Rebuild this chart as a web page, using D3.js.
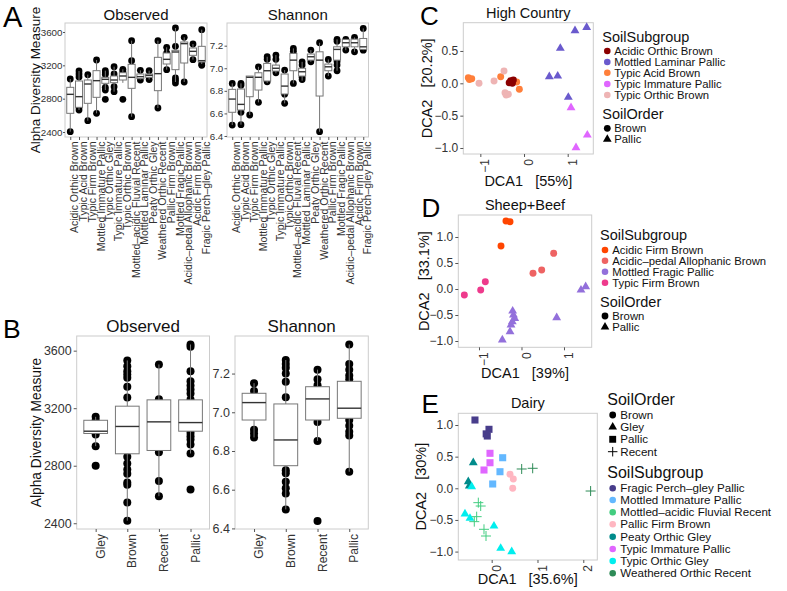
<!DOCTYPE html>
<html><head><meta charset="utf-8">
<script src="https://cdn.jsdelivr.net/npm/d3@7"></script>
<style>
body{margin:0;background:#fff}
text{font-family:"Liberation Sans",Arial,Helvetica,sans-serif}
</style>
</head><body>
<svg id="fig" width="787" height="591"></svg>
<script>
// ---------------- DATA ----------------
const aCats = ["Acidic Orthic Brown","Typic Acid Brown","Typic Firm Brown","Mottled Immature Pallic","Typic Orthic Gley","Typic Immature Pallic","Typic Orthic Brown","Mottled–acidic Fluvial Recent","Mottled Laminar Pallic","Peaty Orthic Gley","Weathered Orthic Recent","Pallic Firm Brown","Mottled Fragic Pallic","Acidic–pedal Allophanic Brown","Acidic Firm Brown","Fragic Perch–gley Pallic"];
// [whiskerLow, q1, median, q3, whiskerHigh]
const aObsStats = [[2404,2624,2852,2936,3036],[2664,2696,2824,3012,3132],[2536,2744,2976,3024,3088],[2624,2816,3016,3136,3264],[2904,2984,3032,3056,3136],[2884,2992,3024,3072,3184],[2990,3024,3072,3112,3152],[2584,2924,3056,3212,3496],[3030,3040,3064,3096,3140],[3030,3056,3080,3096,3136],[2688,2896,3100,3296,3496],[3148,3216,3272,3348,3416],[3000,3148,3360,3380,3648],[3000,3228,3460,3480,3536],[3268,3320,3368,3408,3456],[3216,3240,3256,3428,3628]];
const aObsPoints = [[3036,2404],[3132,3096,3060,2696,2664],[3088,2536],[3264,2624],[3136,3110,3090,2936,2904,2792],[3184,3096,2944,2884],[3152,3130,2792],[3496,3256,3152,2584],[3140,3024],[3136,3030],[3496,2688],[3416,3348,3148],[3648,3428,3048,3020,2988],[3536,3000],[3456,3268],[3628,3216,3200]];
const aShanStats = [[6.497,6.61,6.727,6.813,6.866],[6.5,6.63,6.68,6.816,6.866],[6.586,6.748,6.92,6.931,6.931],[6.698,6.807,6.92,6.96,7.013],[6.87,6.887,6.978,7.043,7.102],[6.955,6.975,7.0,7.028,7.117],[6.689,6.772,6.842,6.949,6.984],[6.866,6.978,7.072,7.132,7.176],[6.89,6.931,6.969,7.0,7.057],[7.057,7.072,7.102,7.126,7.161],[6.438,6.754,7.072,7.146,7.226],[6.931,6.978,7.013,7.037,7.078],[6.978,7.072,7.167,7.19,7.256],[7.16,7.19,7.226,7.256,7.256],[7.146,7.19,7.226,7.258,7.273],[7.16,7.167,7.19,7.264,7.353]];
const aShanPoints = [[6.866,6.497],[6.866,6.85,6.61,6.5],[6.586],[7.013,6.698],[7.102,7.08,6.97,6.88],[7.117,7.08,6.96],[6.984,6.77,6.689],[7.176,7.15,6.866],[7.057,7.03,6.92,6.9],[7.161,7.057],[7.226,6.438],[7.078,6.931],[7.256,7.24,7.06,7.03,6.978],[7.256,7.161],[7.273,7.146],[7.353,7.16]];
const aObsTicks = [2400,2800,3200,3600];
const aShanTicks = [6.4,6.6,6.8,7.0,7.2];

const bCats = ["Gley","Brown","Recent","Pallic"];
const bObsStats = [[2936,3024,3040,3116,3140],[2418,2883,3073,3214,3532],[2588,2906,3105,3258,3504],[2885,3040,3100,3258,3643]];
const bObsPoints = [[3140,3117,3017,2936,2800],[3532,3492,3457,3434,3411,3349,3274,2862,2815,2773,2745,2684,2668,2545,2418],[3504,3263,2893,2693,2588],[3643,3627,3457,3388,3358,3330,3302,3260,3029,3005,2982,2947,2885,2634]];
const bShanStats = [[6.87,6.96,7.05,7.098,7.15],[6.498,6.724,6.857,7.043,7.27],[6.852,6.96,7.069,7.132,7.22],[6.693,6.969,7.021,7.16,7.35]];
const bShanPoints = [[7.15,7.11,6.91,6.89,6.87],[7.27,7.25,7.23,7.2,7.158,7.077,6.7,6.685,6.641,6.607,6.581,6.498],[7.22,7.17,7.14,6.95,6.852,6.438],[7.35,7.25,7.22,7.19,7.17,6.96,6.93,6.9,6.88,6.693]];
const bObsTicks = [2400,2800,3200,3600];
const bShanTicks = [6.4,6.6,6.8,7.0,7.2];

// Panel C: High Country
const cSubgroups = ["Acidic Orthic Brown","Mottled Laminar Pallic","Typic Acid Brown","Typic Immature Pallic","Typic Orthic Brown"];
const cColors = ["#8B0000","#6A5ACD","#FF7F3A","#E066FF","#EEB4B4"];
const cSubOrder = ["Brown","Pallic","Brown","Pallic","Brown"];
const cOrders = ["Brown","Pallic"];
// [DCA1, DCA2, subgroup index]
const cPoints = [[-1.275,0.087,2],[-1.197,0.071,2],[-1.25,0.06,2],[-0.534,0.102,2],[-0.168,0.02,2],[-0.107,-0.093,2],
[-1.03,0.0,4],[-0.686,0.036,4],[-0.458,0.19,4],[-0.435,-0.145,4],[-0.359,-0.17,4],[-0.41,-0.18,4],
[-0.305,0.04,0],[-0.244,0.051,0],[-0.267,0.0,0],[-0.34,0.01,0],
[1.167,0.813,1],[1.434,0.865,1],[0.831,0.541,1],[0.579,0.102,1],[0.771,0.113,1],[1.014,-0.216,1],
[1.076,-0.377,3],[1.449,-0.8,3],[1.19,-0.995,3]];
const cXTicks = [-1,0,1], cYTicks = [-1.0,-0.5,0.0,0.5];

// Panel D: Sheep+Beef
const dSubgroups = ["Acidic Firm Brown","Acidic–pedal Allophanic Brown","Mottled Fragic Pallic","Typic Firm Brown"];
const dColors = ["#FF4500","#EE6363","#9370DB","#EE3A8C"];
const dSubOrder = ["Brown","Brown","Pallic","Brown"];
const dOrders = ["Brown","Pallic"];
const dPoints = [[-0.365,1.308,0],[-0.27,1.295,0],[-0.482,0.827,0],
[0.757,0.686,1],[0.475,0.365,1],[0.271,0.301,1],
[-1.345,-0.115,3],[-0.96,-0.02,3],[-0.851,0.141,3],
[-0.208,-0.423,2],[-0.19,-0.5,2],[-0.16,-0.564,2],[-0.216,-0.628,2],[-0.247,-0.692,2],[-0.27,-0.821,2],[-0.451,-0.98,2],[0.828,-0.552,2],[1.4,-0.02,2],[1.51,0.045,2]];
const dXTicks = [-1,0,1], dYTicks = [-1.0,-0.5,0.0,0.5,1.0];

// Panel E: Dairy
const eSubgroups = ["Fragic Perch–gley Pallic","Mottled Immature Pallic","Mottled–acidic Fluvial Recent","Pallic Firm Brown","Peaty Orthic Gley","Typic Immature Pallic","Typic Orthic Gley","Weathered Orthic Recent"];
const eColors = ["#483D8B","#63B8FF","#43CD80","#FFB6C1","#008B8B","#E066FF","#00EEEE","#2E8B57"];
const eSubOrder = ["Pallic","Pallic","Recent","Brown","Gley","Pallic","Gley","Recent"];
const eOrders = ["Brown","Gley","Pallic","Recent"];
const ePoints = [[-0.365,1.079,0],[-0.059,0.932,0],[-0.096,0.826,0],[-0.12,0.86,0],
[0.24,0.483,1],[0.181,0.262,1],[0.022,0.068,1],
[-0.037,0.553,5],[-0.037,0.404,5],[-0.168,0.289,5],
[0.4,0.221,3],[0.472,0.147,3],[0.459,0.0,3],
[-0.402,0.404,4],[-0.511,0.104,4],[-0.489,0.036,4],
[-0.437,0.025,6],[-0.583,-0.406,6],[-0.474,-0.474,6],[0.05,-0.596,6],[0.196,-0.948,6],[0.437,-1.0,6],
[-0.292,-0.227,2],[-0.24,-0.28,2],[-0.328,-0.448,2],[-0.38,-0.527,2],[-0.168,-0.648,2],[-0.124,-0.754,2],
[0.655,0.305,7],[0.895,0.316,7],[2.16,-0.043,7]];
const eXTicks = [0,1,2], eYTicks = [-1.0,-0.5,0.0,0.5,1.0];

// ---------------- DRAWING ----------------
const svg = d3.select("#fig");
const BORDER = "#cccccc", TICK = "#555", TXT = "#333";

function styleAxis(g){
  g.select(".domain").remove();
  g.selectAll(".tick line").attr("stroke", TICK);
  g.selectAll(".tick text").attr("fill", TXT);
}

function boxPanel(o){
  const x = d3.scalePoint().domain(o.cats).range([o.x0,o.x1]).padding(0.6);
  const y = d3.scaleLinear().domain(o.domain).range([o.y1,o.y0]);
  const g = svg.append("g");
  g.append("rect").attr("x",o.x0).attr("y",o.y0).attr("width",o.x1-o.x0).attr("height",o.y1-o.y0)
    .attr("fill","#fff").attr("stroke",BORDER).attr("stroke-width",1);
  const bw = x.step()*o.boxFrac;
  o.cats.forEach((c,i)=>{
    g.selectAll(null).data(o.pts[i]).join("circle")
      .attr("cx",x(c)).attr("cy",d=>y(d)).attr("r",o.r).attr("fill","#000");
  });
  o.cats.forEach((c,i)=>{
    const s = o.stats[i], cx = x(c);
    g.append("line").attr("x1",cx).attr("x2",cx).attr("y1",y(s[0])).attr("y2",y(s[1])).attr("stroke","#777").attr("stroke-width",1);
    g.append("line").attr("x1",cx).attr("x2",cx).attr("y1",y(s[3])).attr("y2",y(s[4])).attr("stroke","#777").attr("stroke-width",1);
    g.append("rect").attr("x",cx-bw/2).attr("width",bw).attr("y",y(s[3])).attr("height",Math.max(0.5,y(s[1])-y(s[3])))
      .attr("fill","#fff").attr("stroke","#777").attr("stroke-width",1);
    g.append("line").attr("x1",cx-bw/2).attr("x2",cx+bw/2).attr("y1",y(s[2])).attr("y2",y(s[2])).attr("stroke","#333").attr("stroke-width",1.4);
  });
  const ya = g.append("g").attr("transform",`translate(${o.x0},0)`)
    .call(d3.axisLeft(y).tickValues(o.ticks).tickSize(o.tickLen).tickPadding(o.tickPad).tickFormat(o.fmt));
  styleAxis(ya); ya.selectAll("text").style("font-size",o.tickSize+"px");
  const xa = g.append("g").attr("transform",`translate(0,${o.y1})`)
    .call(d3.axisBottom(x).tickSize(3));
  styleAxis(xa);
  xa.selectAll(".tick text").attr("transform","rotate(-90)").attr("text-anchor","end")
    .attr("x",-(o.labGap)).attr("y",0).attr("dy","0.72em").style("font-size",o.catSize+"px");
  g.append("text").attr("x",(o.x0+o.x1)/2).attr("y",o.titleY).attr("text-anchor","middle")
    .style("font-size",o.titleSize+"px").attr("fill","#111").text(o.title);
}

let currentHasSquare = false;
function shapePath(order, scale){
  const k = scale||1;
  if(order==="Brown") return d3.symbol(d3.symbolCircle, 38*k)();
  if(order==="Pallic" && currentHasSquare) return d3.symbol(d3.symbolSquare, 50*k)();
  if(order==="Pallic" || order==="Gley") return d3.symbol(d3.symbolTriangle, 34*k)();
  if(order==="Recent"){ const h=5*k; return `M${-h},0H${h}M0,${-h}V${h}`; }
}

function scatterPanel(o){
  const x = d3.scaleLinear().domain(o.xdom).range([o.x0,o.x1]);
  const y = d3.scaleLinear().domain(o.ydom).range([o.y1,o.y0]);
  const g = svg.append("g");
  g.append("rect").attr("x",o.x0).attr("y",o.y0).attr("width",o.x1-o.x0).attr("height",o.y1-o.y0)
    .attr("fill","#fff").attr("stroke",BORDER).attr("stroke-width",1);
  const ya = g.append("g").attr("transform",`translate(${o.x0},0)`)
    .call(d3.axisLeft(y).tickValues(o.yticks).tickSize(3).tickPadding(2).tickFormat(d3.format(".1f")));
  styleAxis(ya); ya.selectAll("text").style("font-size","12px");
  const xa = g.append("g").attr("transform",`translate(0,${o.y1})`)
    .call(d3.axisBottom(x).tickValues(o.xticks).tickSize(3).tickFormat(d3.format("d")));
  styleAxis(xa);
  xa.selectAll(".tick text").attr("transform","rotate(-90)").attr("text-anchor","end")
    .attr("x",-5).attr("y",0).attr("dy","0.72em").style("font-size","12px");
  g.selectAll(null).data(o.data).join("path")
    .attr("transform",d=>`translate(${x(d[0])},${y(d[1])})`)
    .attr("d",d=>shapePath(o.subOrder[d[2]]))
    .attr("fill",d=>o.subOrder[d[2]]==="Recent"?"none":o.colors[d[2]])
    .attr("stroke",d=>o.subOrder[d[2]]==="Recent"?o.colors[d[2]]:"none")
    .attr("stroke-width",1);
  g.append("text").attr("x",(o.x0+o.x1)/2).attr("y",o.titleY).attr("text-anchor","middle")
    .style("font-size","14.5px").attr("fill","#111").text(o.title);
  g.append("text").attr("x",(o.x0+o.x1)/2).attr("y",o.xlabY).attr("text-anchor","middle")
    .style("font-size","14.5px").style("white-space","pre").attr("fill","#111").text(o.xlab);
  g.append("text").attr("transform",`translate(${o.ylabX},${(o.y0+o.y1)/2}) rotate(-90)`).attr("text-anchor","middle")
    .style("font-size","14.5px").style("white-space","pre").attr("fill","#111").text(o.ylab);
}

function legend(o){
  const g = svg.append("g");
  o.blocks.forEach(b=>{
    g.append("text").attr("x",o.titleX).attr("y",b.titleY).style("font-size",o.titleSize+"px").attr("fill","#111").text(b.title);
    b.items.forEach((it,i)=>{
      const yy = b.ys[i];
      g.append("path").attr("transform",`translate(${o.symX},${yy})`)
        .attr("d", b.kind==="color" ? d3.symbol(d3.symbolCircle, 34)() : shapePath(it, 0.95))
        .attr("fill", b.kind==="color" ? b.colors[i] : (it==="Recent"?"none":"#000"))
        .attr("stroke", b.kind!=="color" && it==="Recent" ? "#000" : "none");
      g.append("text").attr("x",o.textX).attr("y",yy+4).style("font-size",o.itemSize+"px").attr("fill","#111").text(it);
    });
  });
}

// ---- Panel A ----
boxPanel({x0:65,x1:207,y0:23,y1:137,cats:aCats,stats:aObsStats,pts:aObsPoints,domain:[2340,3708],ticks:aObsTicks,fmt:d3.format("d"),
  title:"Observed",titleY:20,titleSize:15,tickSize:9.8,tickLen:2,tickPad:0.5,catSize:10.5,boxFrac:0.8,r:3.4,labGap:4.5});
boxPanel({x0:227,x1:368.5,y0:23,y1:137,cats:aCats,stats:aShanStats,pts:aShanPoints,domain:[6.391,7.401],ticks:aShanTicks,fmt:d3.format(".1f"),
  title:"Shannon",titleY:20,titleSize:15,tickSize:9.8,tickLen:2.5,tickPad:1.2,catSize:10.5,boxFrac:0.8,r:3.4,labGap:4.5});
svg.append("text").attr("transform","translate(39.5,80) rotate(-90)").attr("text-anchor","middle").style("font-size","13.5px").attr("fill","#111").text("Alpha Diversity Measure");

// ---- Panel B ----
boxPanel({x0:76.7,x1:209.5,y0:336,y1:529,cats:bCats,stats:bObsStats,pts:bObsPoints,domain:[2360,3702],ticks:bObsTicks,fmt:d3.format("d"),
  title:"Observed",titleY:332,titleSize:17,tickSize:12.5,tickLen:3,tickPad:2,catSize:12,boxFrac:0.75,r:4,labGap:5});
boxPanel({x0:235,x1:368.3,y0:336,y1:529,cats:bCats,stats:bShanStats,pts:bShanPoints,domain:[6.397,7.394],ticks:bShanTicks,fmt:d3.format(".1f"),
  title:"Shannon",titleY:332,titleSize:17,tickSize:12.5,tickLen:3,tickPad:2,catSize:12,boxFrac:0.75,r:4,labGap:5});
svg.append("text").attr("transform","translate(40.5,432.5) rotate(-90)").attr("text-anchor","middle").style("font-size","13.8px").attr("fill","#111").text("Alpha Diversity Measure");

// ---- Panel C ----
currentHasSquare = false;
scatterPanel({x0:463.3,x1:593.3,y0:22.7,y1:154,xdom:[-1.39,1.586],ydom:[-1.093,0.937],xticks:cXTicks,yticks:cYTicks,
  data:cPoints,colors:cColors,subOrder:cSubOrder,title:"High Country",titleY:18,xlab:"DCA1   [55%]",xlabY:186,ylab:"DCA2   [20.2%]",ylabX:432});
legend({titleX:602.3,symX:607.3,textX:614.3,titleSize:14.5,itemSize:11.3,blocks:[
  {title:"SoilSubgroup",titleY:42,kind:"color",items:cSubgroups,colors:cColors,ys:[51,62,72.7,84,95]},
  {title:"SoilOrder",titleY:119.3,kind:"shape",items:cOrders,ys:[128.3,139.3]}]});

// ---- Panel D ----
scatterPanel({x0:458.3,x1:591.7,y0:215,y1:347.3,xdom:[-1.487,1.652],ydom:[-1.121,1.423],xticks:dXTicks,yticks:dYTicks,
  data:dPoints,colors:dColors,subOrder:dSubOrder,title:"Sheep+Beef",titleY:210,xlab:"DCA1   [39%]",xlabY:378.3,ylab:"DCA2   [33.1%]",ylabX:429});
legend({titleX:600,symX:605,textX:612.3,titleSize:14.5,itemSize:11.3,blocks:[
  {title:"SoilSubgroup",titleY:240,kind:"color",items:dSubgroups,colors:dColors,ys:[250,260.7,271.7,282.7]},
  {title:"SoilOrder",titleY:306.7,kind:"shape",items:dOrders,ys:[316,327]}]});

// ---- Panel E ----
currentHasSquare = true;
scatterPanel({x0:458.3,x1:597.3,y0:413.3,y1:560,xdom:[-0.729,2.306],ydom:[-1.133,1.185],xticks:eXTicks,yticks:eYTicks,
  data:ePoints,colors:eColors,subOrder:eSubOrder,title:"Dairy",titleY:407.7,xlab:"DCA1   [35.6%]",xlabY:584,ylab:"DCA2   [30%]",ylabX:425.5});
legend({titleX:607.3,symX:612.7,textX:620.3,titleSize:16,itemSize:11.6,blocks:[
  {title:"SoilOrder",titleY:405,kind:"shape",items:eOrders,ys:[415,427,439.3,451.7]},
  {title:"SoilSubgroup",titleY:478.3,kind:"color",items:eSubgroups,colors:eColors,ys:[488.3,500,512.3,524.3,536.7,549,561,573.3]}]});

// ---- Panel letters ----
[["A",3,26.7,29],["B",3,338,26.5],["C",420,25,26],["D",421.5,216.7,26],["E",421.5,413.3,26]].forEach(l=>{
  svg.append("text").attr("x",l[1]).attr("y",l[2]).style("font-size",l[3]+"px").attr("fill","#000").text(l[0]);
});
</script>
</body></html>
